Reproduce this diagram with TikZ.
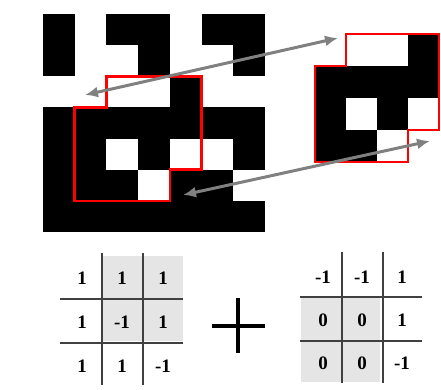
\documentclass[tikz,border=0pt]{standalone}
\usepackage{fontspec}
\setmainfont{Liberation Serif}
\usetikzlibrary{arrows.meta}
\tikzset{
  redline/.style={draw=red,line width=2.6pt,line join=miter},
  swap/.style={{Latex[length=13pt,width=11pt]}-{Latex[length=13pt,width=11pt]},draw=gray,line width=3pt},
  tabline/.style={draw=black!75,line width=1.3pt},
  shade/.style={fill=black!10},
  num/.style={font=\fontsize{19}{19}\selectfont\bfseries,inner sep=0pt}
}
\begin{document}
\begin{tikzpicture}[x=1pt,y=-1pt]
\useasboundingbox[fill=white] (0,0) rectangle (441,390);

% the big pattern
\begin{scope}[xshift=43pt,yshift=-14pt,x=31.71pt,y=-31.14pt]
\foreach \r/\row in {0/{1,0,1,1,0,1,1},1/{1,0,0,1,0,0,1},2/{0,0,0,0,1,0,0},
  3/{1,1,1,1,1,1,1},4/{1,1,0,1,0,0,1},5/{1,1,1,0,1,1,0},6/{1,1,1,1,1,1,1}}
  \foreach \v [count=\c from 0] in \row {\ifnum\v=1 \fill (\c,\r) rectangle ++(1,1);\fi}
\draw[redline] (2,2) -- (5,2) -- (5,5) -- (4,5) -- (4,6) -- (1,6) -- (1,3) -- (2,3) -- cycle;
\end{scope}

% the patch, moved
\begin{scope}[xshift=315pt,yshift=-34pt,x=31pt,y=-32pt]
\foreach \r/\row in {0/{0,0,0,1},1/{1,1,1,1},2/{1,0,1,0},3/{1,1,0,0}}
  \foreach \v [count=\c from 0] in \row {\ifnum\v=1 \fill (\c,\r) rectangle ++(1,1);\fi}
\draw[redline] (1,0) -- (4,0) -- (4,3) -- (3,3) -- (3,4) -- (0,4) -- (0,1) -- (1,1) -- cycle;
\end{scope}

\coordinate (topL) at (85,95);
\coordinate (topR) at (338,38);
\coordinate (botL) at (183,195);
\coordinate (botR) at (430,141);
\draw[swap] (topL) -- (topR);
\draw[swap] (botL) -- (botR);

% left table
\fill[shade] (103,256) rectangle (183,341);
\draw[tabline] (60,299) -- (183,299) (60,343) -- (183,343);
\draw[tabline] (102,253) -- (102,385) (143,253) -- (143,385);
\node[num] (L11) at (82,278) {1};  \node[num] (L12) at (122,278) {1};  \node[num] (L13) at (163,278) {1};
\node[num] (L21) at (82,322) {1};  \node[num] (L22) at (122,322) {-1}; \node[num] (L23) at (163,322) {1};
\node[num] (L31) at (82,366) {1};  \node[num] (L32) at (122,366) {1};  \node[num] (L33) at (163,366) {-1};

% plus
\draw[line width=4pt] (212,326) -- (265,326) (238,298) -- (238,353);

% right table
\fill[shade] (301,298) rectangle (380,382);
\draw[tabline] (300,297) -- (422,297) (300,341) -- (422,341);
\draw[tabline] (342,252) -- (342,383) (383,252) -- (383,383);
\node[num] (R11) at (323,277) {-1}; \node[num] (R12) at (362,277) {-1}; \node[num] (R13) at (402,277) {1};
\node[num] (R21) at (323,320) {0};  \node[num] (R22) at (362,320) {0};  \node[num] (R23) at (402,320) {1};
\node[num] (R31) at (323,363) {0};  \node[num] (R32) at (362,363) {0};  \node[num] (R33) at (402,363) {-1};
\end{tikzpicture}
\end{document}
